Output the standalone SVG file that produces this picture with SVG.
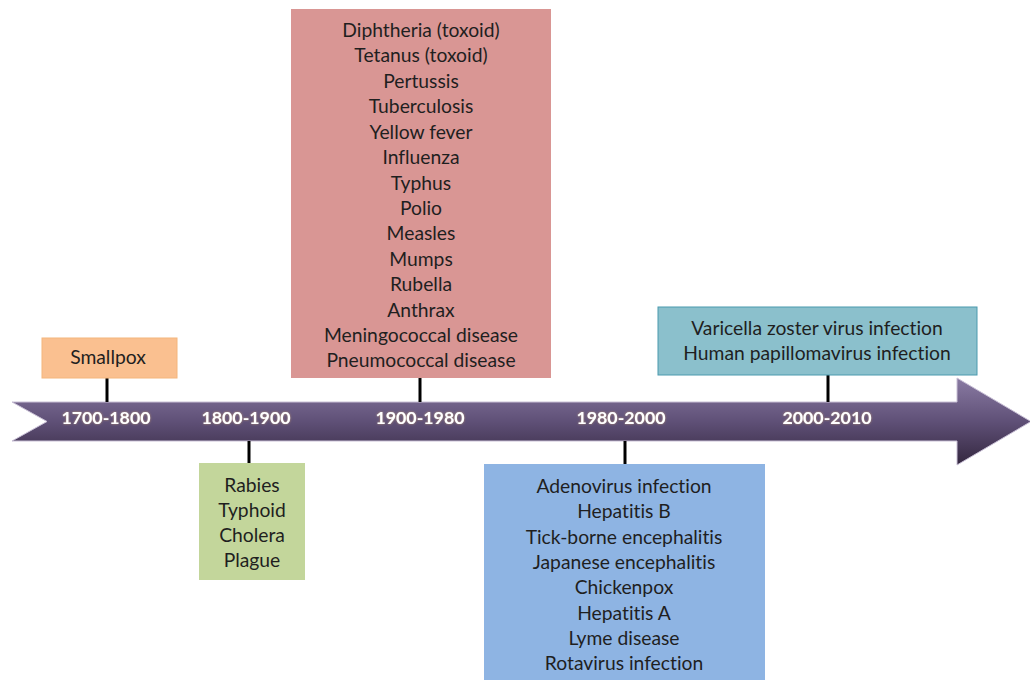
<svg xmlns="http://www.w3.org/2000/svg" width="1030" height="680" viewBox="0 0 1030 680">
<defs>
<linearGradient id="arrowGrad" x1="0" y1="0" x2="0" y2="1">
<stop offset="0" stop-color="#8a7ba3"/>
<stop offset="0.5" stop-color="#5f5077"/>
<stop offset="1" stop-color="#34273f"/>
</linearGradient>
<filter id="glow" x="-10%" y="-30%" width="120%" height="160%">
<feGaussianBlur in="SourceAlpha" stdDeviation="0.8" result="b"/>
<feFlood flood-color="#c8a070" flood-opacity="0.8"/>
<feComposite in2="b" operator="in" result="g"/>
<feMerge><feMergeNode in="g"/><feMergeNode in="SourceGraphic"/></feMerge>
</filter>
</defs>
<style>
.box text{font-family:Lato,"Liberation Sans",sans-serif;font-size:19.3px;fill:#1f1f1f;text-anchor:middle;font-variant-ligatures:none}
.yr{font-family:Lato,"Liberation Sans",sans-serif;font-size:17.8px;font-weight:bold;fill:#ffffff;text-anchor:middle}
.tick{stroke:#000;stroke-width:3}
</style>
<rect width="1030" height="680" fill="#ffffff"/>
<g id="timeline">
<path d="M12,402 L957,402 L957,378 L1031,421.5 L957,465 L957,441 L12,441 L47,421.5 Z" fill="url(#arrowGrad)" stroke="#c9c0d6" stroke-width="1"/>
<g filter="url(#glow)">
<text class="yr" x="106" y="424">1700-1800</text>
<text class="yr" x="246" y="424">1800-1900</text>
<text class="yr" x="420" y="424">1900-1980</text>
<text class="yr" x="621" y="424">1980-2000</text>
<text class="yr" x="827" y="424">2000-2010</text>
</g>
</g>
<g id="connectors">
<line class="tick" x1="107" y1="378" x2="107" y2="402"/>
<line class="tick" x1="249" y1="441" x2="249" y2="463"/>
<line class="tick" x1="420" y1="378" x2="420" y2="402"/>
<line class="tick" x1="625" y1="441" x2="625" y2="464"/>
<line class="tick" x1="828" y1="375" x2="828" y2="402"/>
</g>
<g id="smallpox" class="box">
<rect x="42" y="338" width="135" height="40" fill="#fac090" stroke="#f4b67c" stroke-width="1"/>
<text x="108" y="364">Smallpox</text>
</g>
<g id="b1800" class="box">
<rect x="199" y="463" width="106" height="117" fill="#c3d69b"/>
<text x="252" y="492">Rabies</text>
<text x="252" y="517">Typhoid</text>
<text x="252" y="542">Cholera</text>
<text x="252" y="567">Plague</text>
</g>
<g id="b1900" class="box">
<rect x="291" y="9" width="260" height="369" fill="#d99694"/>
<text x="421" y="37">Diphtheria (toxoid)</text>
<text x="421" y="62">Tetanus (toxoid)</text>
<text x="421" y="88">Pertussis</text>
<text x="421" y="113">Tuberculosis</text>
<text x="421" y="139">Yellow fever</text>
<text x="421" y="164">Influenza</text>
<text x="421" y="190">Typhus</text>
<text x="421" y="215">Polio</text>
<text x="421" y="240">Measles</text>
<text x="421" y="266">Mumps</text>
<text x="421" y="291">Rubella</text>
<text x="421" y="317">Anthrax</text>
<text x="421" y="342">Meningococcal disease</text>
<text x="421" y="367">Pneumococcal disease</text>
</g>
<g id="b1980" class="box">
<rect x="484" y="464" width="281" height="220" fill="#8eb4e3"/>
<text x="624" y="493">Adenovirus infection</text>
<text x="624" y="518">Hepatitis B</text>
<text x="624" y="544">Tick-borne encephalitis</text>
<text x="624" y="569">Japanese encephalitis</text>
<text x="624" y="594">Chickenpox</text>
<text x="624" y="620">Hepatitis A</text>
<text x="624" y="645">Lyme disease</text>
<text x="624" y="670">Rotavirus infection</text>
</g>
<g id="b2000" class="box">
<rect x="658" y="307" width="319" height="68" fill="#8bc0cc" stroke="#4a9aae" stroke-width="1"/>
<text x="817" y="335">Varicella zoster virus infection</text>
<text x="817" y="360">Human papillomavirus infection</text>
</g>
</svg>
